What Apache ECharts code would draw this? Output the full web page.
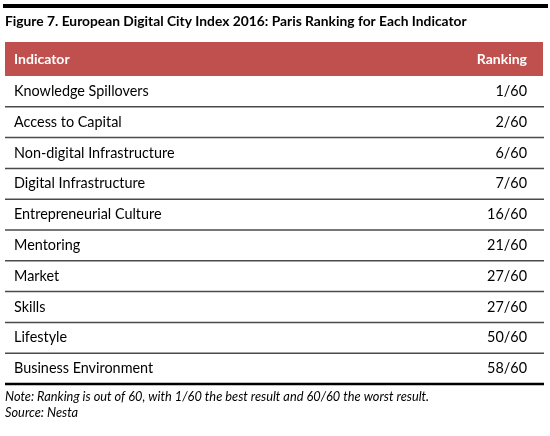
<!DOCTYPE html>
<html><head><meta charset="utf-8">
<script src="https://cdn.jsdelivr.net/npm/echarts@6/dist/echarts.min.js"></script>
<style>html,body{margin:0;padding:0;background:#fff}#c{width:550px;height:436px}</style>
</head><body><div id="c"></div>
<script>
const titleText = 'Figure 7. European Digital City Index 2016: Paris Ranking for Each Indicator';
const headers = ['Indicator', 'Ranking'];
const indicators = ['Knowledge Spillovers','Access to Capital','Non-digital Infrastructure','Digital Infrastructure','Entrepreneurial Culture','Mentoring','Market','Skills','Lifestyle','Business Environment'];
const rankings = ['1/60','2/60','6/60','7/60','16/60','21/60','27/60','27/60','50/60','58/60'];
const noteLines = ['Note: Ranking is out of 60, with 1/60 the best result and 60/60 the worst result.','Source: Nesta'];

const FONT = 'Lato';
const chart = echarts.init(document.getElementById('c'), null, {renderer:'canvas'});
const data = indicators.map((n,i)=>[0,i,rankings[i]]);
chart.setOption({
  animation:false,
  grid:{left:5,right:7,top:76,bottom:52},
  xAxis:{type:'value',min:0,max:1,show:false},
  yAxis:{type:'category',data:indicators,inverse:true,show:false},
  graphic:[
    {type:'rect',shape:{x:3,y:4,width:545,height:4},style:{fill:'#000'}},
    {type:'text',x:5,y:22,style:{text:titleText,font:'bold 13.8px '+FONT,fill:'#000',verticalAlign:'middle'}},
    {type:'rect',shape:{x:5,y:42,width:538,height:34},style:{fill:'#C0504D'}},
    {type:'text',x:14,y:59,style:{text:headers[0],font:'bold 14px '+FONT,fill:'#fff',verticalAlign:'middle'}},
    {type:'text',x:527,y:59,style:{text:headers[1],font:'bold 14px '+FONT,fill:'#fff',verticalAlign:'middle',align:'right'}},
    {type:'text',x:5,y:397,style:{text:noteLines[0],font:'italic 12.8px '+FONT,fill:'#000',verticalAlign:'middle'}},
    {type:'text',x:5,y:413,style:{text:noteLines[1],font:'italic 12.8px '+FONT,fill:'#000',verticalAlign:'middle'}}
  ],
  series:[{
    type:'custom',
    data:data,
    encode:{x:0,y:1},
    renderItem:function(params,api){
      const idx = api.value(1);
      const p0 = api.coord([0, idx]);
      const p1 = api.coord([1, idx]);
      const h = api.size([0,1])[1];
      const yb = p0[1] + h/2;
      const last = params.dataIndex === indicators.length-1;
      return {type:'group',children:[
        {type:'text',style:{x:p0[0]+9,y:p0[1],text:indicators[params.dataIndex],font:'14.4px '+FONT,fill:'#000',verticalAlign:'middle'}},
        {type:'text',style:{x:p1[0]-16,y:p0[1],text:rankings[params.dataIndex],font:'14.4px '+FONT,fill:'#000',verticalAlign:'middle',align:'right'}},
        {type:'line',shape:{x1:p0[0],y1:yb,x2:p1[0]+1,y2:yb},style:{stroke:last?'#000':'#4a4a4a',lineWidth:last?2.5:1.5}}
      ]};
    }
  }]
});
</script></body></html>
